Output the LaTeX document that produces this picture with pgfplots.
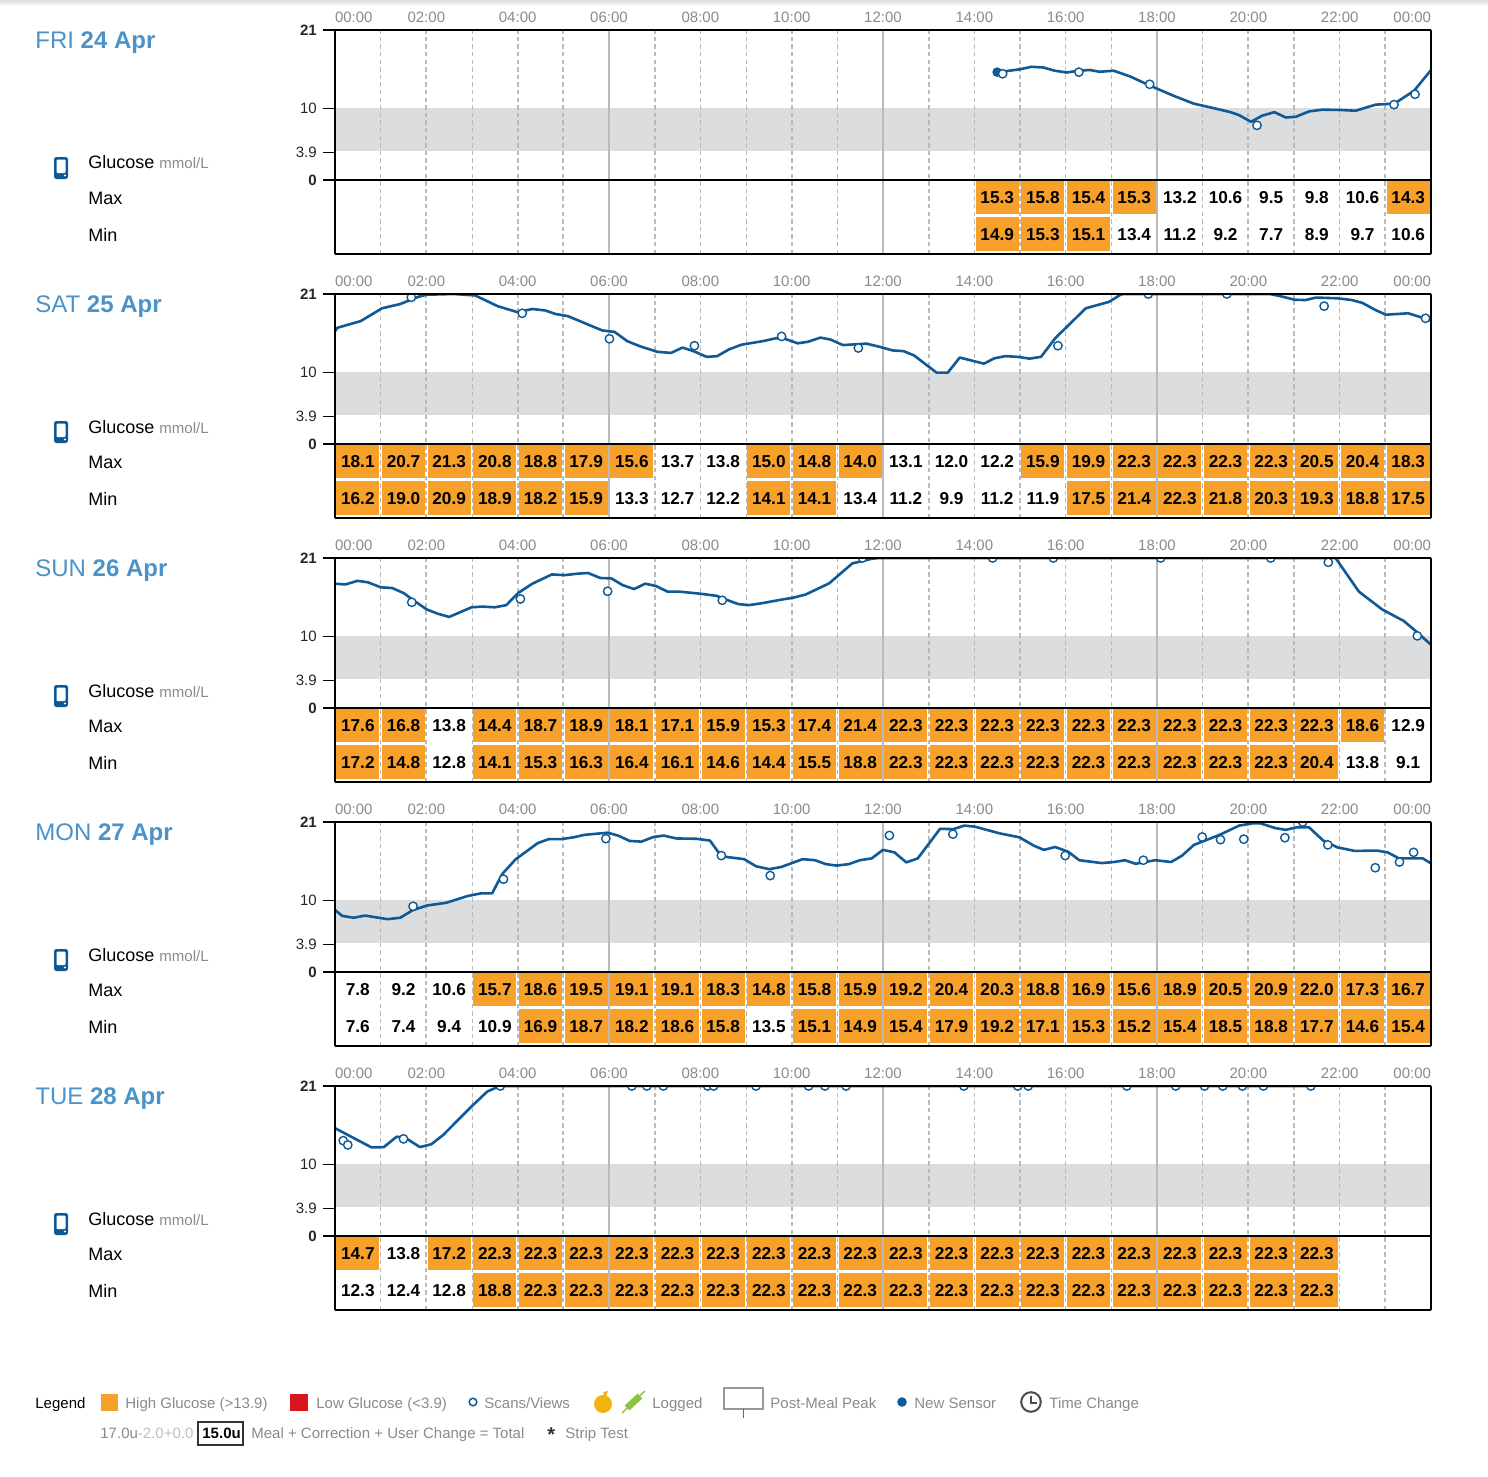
\documentclass[border=0pt]{standalone}
\usepackage{fontspec}
\setmainfont{Liberation Sans}
\usepackage{pgfplots}
\usepackage{pgfplotstable}
\pgfplotsset{compat=1.18}

\definecolor{curve}{HTML}{0F5A96}
\definecolor{band}{HTML}{DCDDDF}
\definecolor{gridc}{HTML}{B9BABC}
\definecolor{high}{HTML}{F7A12B}
\definecolor{low}{HTML}{D9161E}
\definecolor{head}{HTML}{4A92C8}
\definecolor{txt}{HTML}{8A8A8A}
\definecolor{apple}{HTML}{F0B30F}
\definecolor{syringe}{HTML}{8CC63F}

\newcommand\fs[1]{\fontsize{#1}{#1}\selectfont}

% curve: hour, mmol/L (clipped at 21 as on the chart)
\pgfplotstableread{
h v
14.5 15.1
14.59 15.15
15 15.5
15.25 15.85
15.51 15.75
15.76 15.3
16.02 15.05
16.28 15.3
16.53 15.4
16.75 15.15
17.05 15.3
17.41 14.5
17.85 13.2
18.36 11.8
18.8 10.7
19.28 10
19.61 9.5
19.79 9.1
20.06 8.15
20.3 9
20.57 9.5
20.82 8.75
21.04 8.85
21.33 9.6
21.62 9.85
22.02 9.8
22.35 9.7
22.79 10.55
23.2 10.7
23.63 12.5
24 15.4
}\fricurve
\pgfplotstableread{
h v
14.62 14.87
16.29 15.1
17.84 13.4
20.19 7.65
23.19 10.55
23.65 12.0
}\friscan
\pgfplotstableread{
h mx mn
14.5 15.3 14.9
15.5 15.8 15.3
16.5 15.4 15.1
17.5 15.3 13.4
18.5 13.2 11.2
19.5 10.6 9.2
20.5 9.5 7.7
21.5 9.8 8.9
22.5 10.6 9.7
23.5 14.3 10.6
}\fricells

\pgfplotstableread{
h v
0 15.76
.05 16.27
.56 17.2
1.03 19.0
1.43 19.6
1.82 20.6
2.01 20.9
2.6 21
3.07 20.8
3.56 19.3
4.0 18.45
4.32 18.9
4.6 18.7
4.83 18.2
5.1 17.9
5.42 17.05
5.85 15.9
6.12 15.7
6.4 14.4
6.67 13.7
7.06 12.9
7.36 12.75
7.61 13.5
7.85 13.0
8.14 12.2
8.37 12.3
8.63 13.25
8.9 13.9
9.37 14.4
9.65 14.8
9.84 14.75
10.13 14.1
10.35 14.3
10.63 14.9
10.86 14.6
11.12 13.85
11.64 14.05
11.94 13.58
12.21 13.1
12.45 13
12.68 12.4
13.17 10.0
13.42 10.0
13.68 12.1
14.21 11.25
14.44 12
14.68 12.3
14.95 12.2
15.21 11.95
15.46 12.2
15.77 14.8
16.44 19.0
16.95 19.9
17.2 20.9
17.26 21
20.47 21
20.7 20.7
21.01 20.2
21.25 20.15
21.48 20.5
21.95 20.4
22.27 20.15
22.5 19.75
22.77 18.8
23.01 18.1
23.5 18.3
24 17.3
}\satcurve
\pgfplotstableread{
h v
1.67 20.54
4.10 18.3
6.01 14.73
7.87 13.76
9.78 15.06
11.46 13.44
15.83 13.76
17.81 21
19.53 21
21.66 19.3
23.88 17.6
}\satscan
\pgfplotstableread{
h mx mn
0.5 18.1 16.2
1.5 20.7 19.0
2.5 21.3 20.9
3.5 20.8 18.9
4.5 18.8 18.2
5.5 17.9 15.9
6.5 15.6 13.3
7.5 13.7 12.7
8.5 13.8 12.2
9.5 15.0 14.1
10.5 14.8 14.1
11.5 14.0 13.4
12.5 13.1 11.2
13.5 12.0 9.9
14.5 12.2 11.2
15.5 15.9 11.9
16.5 19.9 17.5
17.5 22.3 21.4
18.5 22.3 22.3
19.5 22.3 21.8
20.5 22.3 20.3
21.5 20.5 19.3
22.5 20.4 18.8
23.5 18.3 17.5
}\satcells

\pgfplotstableread{
h v
0 17.4
.23 17.3
.49 17.8
.72 17.6
1 16.9
1.25 16.8
1.5 16.1
1.78 14.8
2.01 13.8
2.25 13.2
2.5 12.75
2.99 14.1
3.23 14.2
3.5 14.1
3.75 14.4
4.01 16.1
4.32 17.4
4.75 18.7
5.03 18.6
5.3 18.8
5.54 18.9
5.81 18.2
6.05 18.15
6.3 17.2
6.55 16.65
6.79 17.4
7.02 17.1
7.28 16.3
7.53 16.3
8 16
8.36 15.7
8.55 15.2
8.83 14.55
9.06 14.4
9.33 14.65
9.8 15.2
10.04 15.45
10.31 15.9
10.82 17.45
11.33 20.25
11.53 20.55
11.76 20.9
11.92 21
21.91 21
22.42 16.3
22.93 13.8
23.4 12.2
23.68 10.7
24 8.85
}\suncurve
\pgfplotstableread{
h v
1.68 14.8
4.06 15.27
5.97 16.34
8.48 15.08
11.55 21
14.4 21
15.73 21
18.08 21
20.49 21
21.75 20.4
23.7 10.1
}\sunscan
\pgfplotstableread{
h mx mn
0.5 17.6 17.2
1.5 16.8 14.8
2.5 13.8 12.8
3.5 14.4 14.1
4.5 18.7 15.3
5.5 18.9 16.3
6.5 18.1 16.4
7.5 17.1 16.1
8.5 15.9 14.6
9.5 15.3 14.4
10.5 17.4 15.5
11.5 21.4 18.8
12.5 22.3 22.3
13.5 22.3 22.3
14.5 22.3 22.3
15.5 22.3 22.3
16.5 22.3 22.3
17.5 22.3 22.3
18.5 22.3 22.3
19.5 22.3 22.3
20.5 22.3 22.3
21.5 22.3 20.4
22.5 18.6 13.8
23.5 12.9 9.1
}\suncells

\pgfplotstableread{
h v
0 8.69
.16 7.85
.41 7.6
.66 7.9
1.15 7.4
1.43 7.6
1.7 8.65
2.01 9.3
2.44 9.7
2.91 10.65
3.19 11
3.44 11
3.66 13.7
3.95 15.75
4.44 18.05
4.68 18.6
4.95 18.6
5.22 18.85
5.46 19.2
5.97 19.5
6.2 19.1
6.45 18.35
6.71 18.25
6.97 18.9
7.2 19.1
7.47 18.7
7.92 18.65
8.21 18.4
8.46 16.2
8.96 15.8
9.22 14.8
9.51 14.4
9.77 14.7
10.24 15.8
10.51 15.65
10.75 15.1
10.98 14.9
11.25 15.1
11.49 15.65
11.75 15.9
12.0 17.1
12.25 16.75
12.51 15.35
12.76 15.9
13.25 20.05
13.54 20
13.78 20.5
14.01 20.35
14.56 19.4
14.99 18.85
15.3 17.7
15.52 17.1
15.77 17.5
16.05 16.85
16.3 15.65
16.79 15.25
17.06 15.4
17.3 15.65
17.53 15.15
17.96 15.65
18.31 15.4
18.55 16.3
18.81 17.8
19.37 19.2
19.8 20.5
20.08 20.8
20.27 20.8
20.59 20.15
20.82 19.9
21.05 20.25
21.33 20.25
21.64 18.4
21.95 17.45
22.33 16.95
22.81 17
23.05 16.75
23.3 15.9
23.82 15.9
24 15.2
}\moncurve
\pgfplotstableread{
h v
1.71 9.2
3.69 13
5.93 18.67
8.46 16.3
9.53 13.5
12.14 19.12
13.53 19.3
15.99 16.3
17.7 15.65
18.99 18.9
19.39 18.53
19.9 18.6
20.8 18.8
21.19 21
21.74 17.8
22.78 14.6
23.31 15.4
23.62 16.75
}\monscan
\pgfplotstableread{
h mx mn
0.5 7.8 7.6
1.5 9.2 7.4
2.5 10.6 9.4
3.5 15.7 10.9
4.5 18.6 16.9
5.5 19.5 18.7
6.5 19.1 18.2
7.5 19.1 18.6
8.5 18.3 15.8
9.5 14.8 13.5
10.5 15.8 15.1
11.5 15.9 14.9
12.5 19.2 15.4
13.5 20.4 17.9
14.5 20.3 19.2
15.5 18.8 17.1
16.5 16.9 15.3
17.5 15.6 15.2
18.5 18.9 15.4
19.5 20.5 18.5
20.5 20.9 18.8
21.5 22.0 17.7
22.5 17.3 14.6
23.5 16.7 15.4
}\moncells

\pgfplotstableread{
h v
0 15.1
.8 12.4
1.07 12.45
1.35 13.9
1.54 13.75
1.86 12.45
2.11 12.85
2.37 14.15
2.99 18.15
3.34 20.25
3.54 20.8
3.7 21
21.4 21
}\tuecurve
\pgfplotstableread{
h v
.18 13.35
.28 12.75
1.5 13.6
3.62 21
6.5 21
6.83 21
7.19 21
8.16 21
8.29 21
9.22 21
10.37 21
10.73 21
11.19 21
13.77 21
14.95 21
15.18 21
17.34 21
18.41 21
19.04 21
19.44 21
19.87 21
20.33 21
21.37 21
}\tuescan
\pgfplotstableread{
h mx mn
0.5 14.7 12.3
1.5 13.8 12.4
2.5 17.2 12.8
3.5 22.3 18.8
4.5 22.3 22.3
5.5 22.3 22.3
6.5 22.3 22.3
7.5 22.3 22.3
8.5 22.3 22.3
9.5 22.3 22.3
10.5 22.3 22.3
11.5 22.3 22.3
12.5 22.3 22.3
13.5 22.3 22.3
14.5 22.3 22.3
15.5 22.3 22.3
16.5 22.3 22.3
17.5 22.3 22.3
18.5 22.3 22.3
19.5 22.3 22.3
20.5 22.3 22.3
21.5 22.3 22.3
}\tuecells

\pgfplotsset{
  day/.style={
    scale only axis, width=548pt, height=112pt,
    xmin=0, xmax=24, ymin=-10.36, ymax=21,
    axis on top, clip marker paths=true,
    separate axis lines,
    x axis line style={black,line width=.75pt},
    y axis line style={black,line width=1pt},
    xtick={0,2,...,24},
    xticklabels={\makebox[0pt][l]{00:00},02:00,04:00,06:00,08:00,10:00,12:00,14:00,16:00,18:00,20:00,22:00,\makebox[0pt][r]{00:00}},
    xtick pos=top, xticklabel pos=top,
    xtick style={draw=none},
    x tick label style={font=\fs{7.5}, text=txt, yshift=-5.75pt},
    ytick={0,10,21},
    yticklabels={\textbf{0},10,\textbf{21}},
    ytick pos=left,
    tick align=outside, major tick length=6pt,
    ytick style={black,line width=.9pt},
    y tick label style={font=\fs{7.5}, text=black!85, xshift=.4pt},
    extra y ticks={3.9}, extra y tick labels={3.9},
    extra y tick style={ytick style={black,line width=.4pt}},
  },
  cell row/.style={
    only marks, mark=none, black,
    nodes near coords={\pgfmathprintnumber[fixed,fixed zerofill,precision=1,assume math mode=true]{\pgfplotspointmeta}},
    every node near coord/.append style={
      anchor=center, inner sep=0pt, minimum width=21.5pt, minimum height=16.6pt,
      text height=6.2pt, text depth=0pt,
      font=\fs{8.6}\bfseries, text=black},
    coordinate style/.condition={meta > 13.9}{fill=high},
  },
}

% top y, weekday, date, curve, scans, cells, extra plots
\newcommand\dayaxis[7]{
  \node[anchor=base west,text=head,font=\fs{12},inner sep=0pt] at (35,#1+18.5) {#2 \textbf{#3}};
  \fill[curve,rounded corners=1.2pt] (54,#1+127) rectangle (68,#1+149);
  \fill[white,rounded corners=.5pt] (56.5,#1+129.5) rectangle (65.5,#1+143);
  \fill[white] (65,#1+145.5) circle (.6pt);
  \node[anchor=base west,font=\fs{9},inner sep=0pt] at (88,#1+139) {Glucose \textcolor{txt}{\fs{7.5}mmol/L}};
  \node[anchor=base west,font=\fs{9},inner sep=0pt] at (88,#1+174) {Max};
  \node[anchor=base west,font=\fs{9},inner sep=0pt] at (88,#1+211) {Min};
  \begin{axis}[day, at={({335*0.5pt},{-#1*0.5pt})}, anchor=north west]
    \fill[band] (0,4.02) rectangle (24,10.14);
    \pgfplotsinvokeforeach{1,3,8,9,11,14,16,17,19,22}{
      \draw[gridc,line width=.5pt,dash pattern=on 2.2pt off 1.6pt] (##1,-10.36) -- (##1,21);
    }
    \pgfplotsinvokeforeach{2,4,5,7,10,13,15,20,21,23}{
      \draw[gridc,line width=1pt,dash pattern=on 2.2pt off 1.6pt] (##1,-10.36) -- (##1,21);
    }
    \draw[gridc,line width=1.1pt] (6,-10.36) -- (6,21);
    \pgfplotsinvokeforeach{12,18}{
      \draw[gridc,line width=.65pt] (##1,-10.36) -- (##1,21);
    }
    \draw[black,line width=.75pt] (0,0) -- (24,0);
    \addplot[cell row, point meta=\thisrow{mx}] table[x=h, y expr=-2.48] {#6};
    \addplot[cell row, point meta=\thisrow{mn}] table[x=h, y expr=-7.56] {#6};
    \addplot[curve, line width=1.3pt, line join=round] table[x=h, y=v] {#4};
    #7
    \addplot[only marks, mark=*, mark size=2.1pt,
      mark options={draw=curve, fill=white, line width=.7pt}] table[x=h, y=v] {#5};
  \end{axis}
}

\begin{document}
\begin{tikzpicture}[x=0.5pt,y=-0.5pt]
  \useasboundingbox (0,0) rectangle (1488,1477);
  \shade[top color=black!14,bottom color=white] (0,0) rectangle (1488,6);

  \dayaxis{30}{FRI}{24 Apr}{\fricurve}{\friscan}{\fricells}{\addplot[only marks, mark=*, mark size=2.2pt, curve] coordinates {(14.5,15.1)};}
  \dayaxis{294}{SAT}{25 Apr}{\satcurve}{\satscan}{\satcells}{}
  \dayaxis{558}{SUN}{26 Apr}{\suncurve}{\sunscan}{\suncells}{}
  \dayaxis{822}{MON}{27 Apr}{\moncurve}{\monscan}{\moncells}{}
  \dayaxis{1086}{TUE}{28 Apr}{\tuecurve}{\tuescan}{\tuecells}{}

  % legend, first row
  \begin{scope}[every node/.style={anchor=base west,inner sep=0pt,font=\fs{7.5},text=txt}]
    \node[text=black] at (35,1408) {Legend};
    \fill[high] (101,1394) rectangle (118,1411);
    \node at (125,1408) {High Glucose (>13.9)};
    \fill[low] (290,1394) rectangle (308,1411);
    \node at (316,1408) {Low Glucose (<3.9)};
    \draw[curve,line width=.75pt] (473,1402) circle (1.9pt);
    \node at (484,1408) {Scans/Views};
    \fill[apple] (603,1404) circle (4.5pt);
    \fill[apple] (603,1392) -- (608,1391) -- (605,1398) -- cycle;
    \draw[syringe,line width=3.4pt] (627,1408) -- (640,1396);
    \draw[syringe,line width=.7pt] (622,1413) -- (645,1391);
    \node at (652,1408) {Logged};
    \draw[black!40,line width=.9pt] (724,1388) rectangle (763,1409);
    \draw[black!60,line width=.4pt] (743,1409) -- (743,1418);
    \node at (770,1408) {Post-Meal Peak};
    \fill[curve] (902,1402) circle (2.4pt);
    \node at (914,1408) {New Sensor};
    \draw[black!70,line width=1pt] (1031,1402) circle (4.9pt);
    \draw[black!70,line width=.8pt] (1031,1396) -- (1031,1403) -- (1037,1403);
    \node at (1049,1408) {Time Change};
    % second row
    \node at (100,1438) {17.0u\textcolor{black!25}{-2.0+0.0}};
    \draw[black!80,line width=.7pt] (198,1422) rectangle (243,1445);
    \node[text=black,font=\fs{7.5}\bfseries] at (202,1438) {15.0u};
    \node at (251,1438) {Meal + Correction + User Change = Total};
    \node[text=black!80,font=\fs{10}\bfseries] at (547,1441) {*};
    \node at (565,1438) {Strip Test};
  \end{scope}
\end{tikzpicture}
\end{document}
